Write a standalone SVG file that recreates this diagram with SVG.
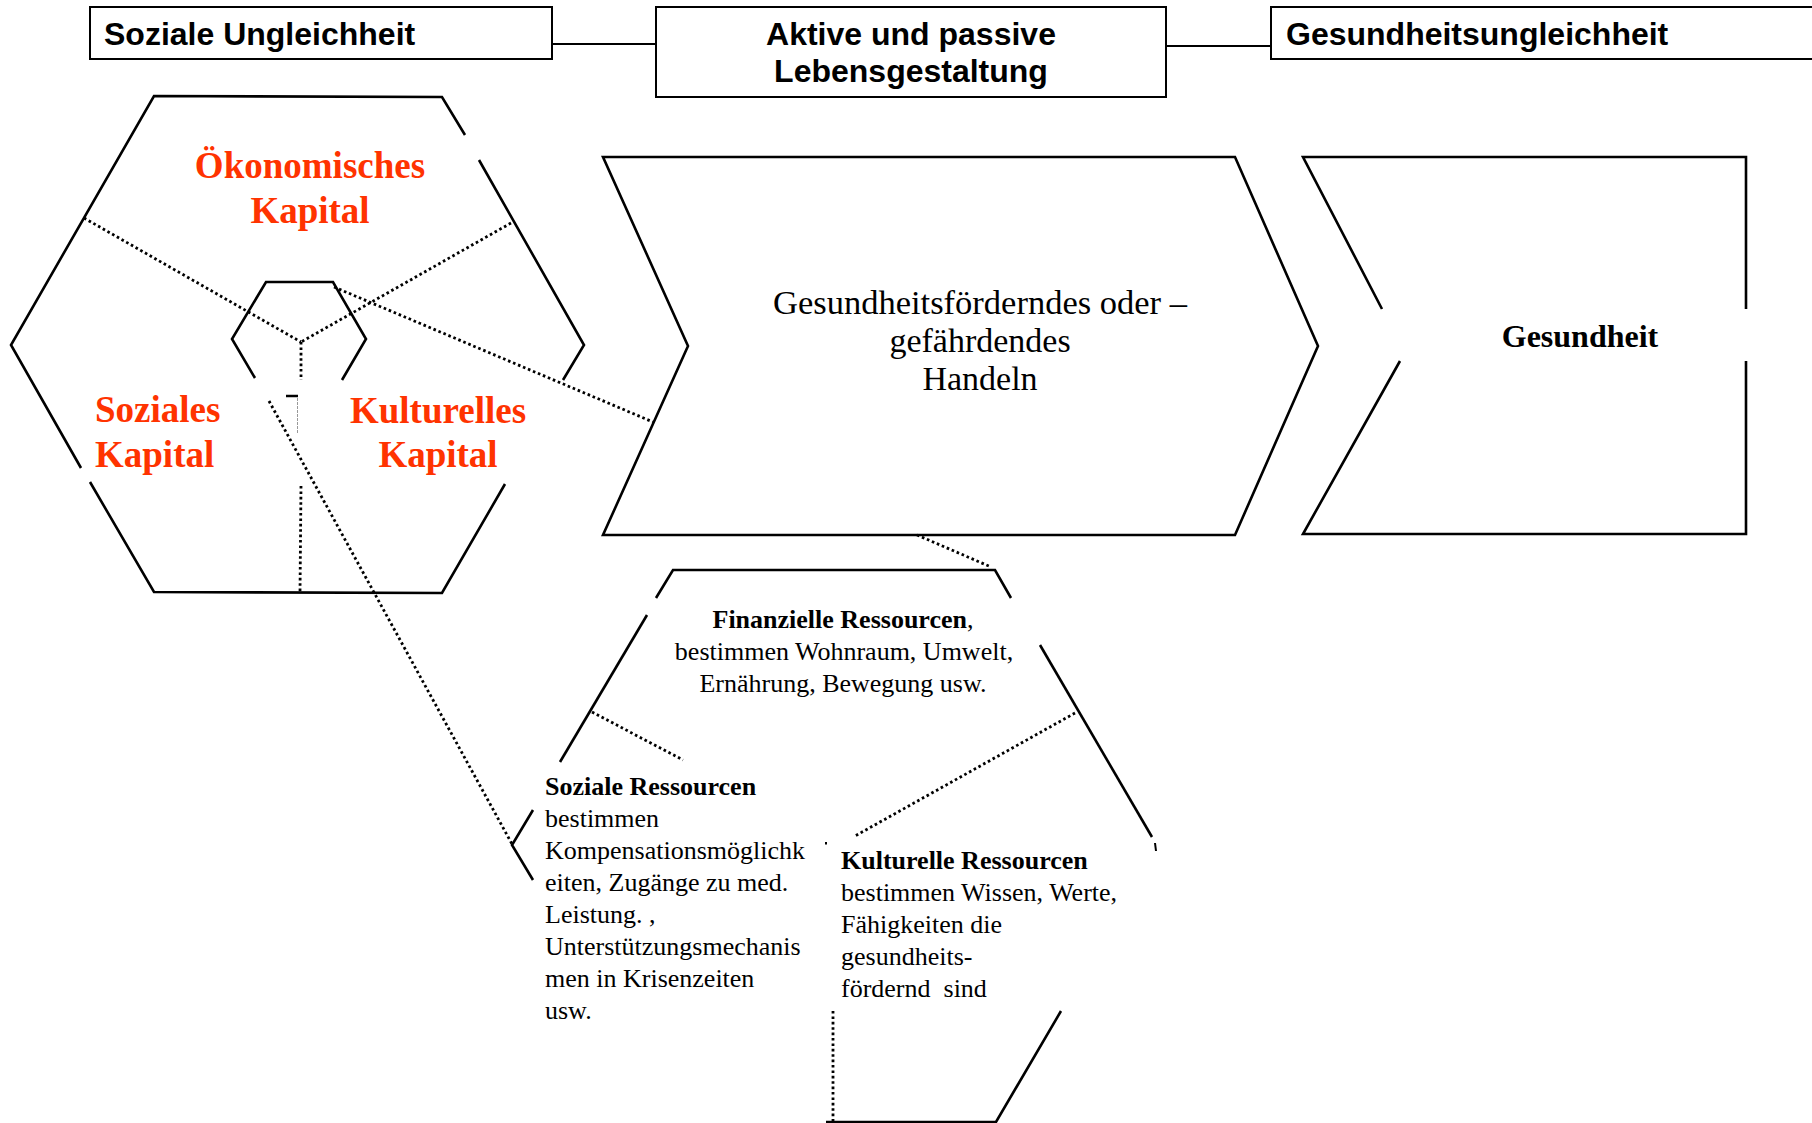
<svg xmlns="http://www.w3.org/2000/svg" width="1812" height="1123" viewBox="0 0 1812 1123">
<style>
.box{fill:#fff;stroke:#000;stroke-width:2}
.ln{fill:none;stroke:#000;stroke-width:2.6;stroke-linejoin:miter}
.thin{fill:none;stroke:#000;stroke-width:2}
.dot{fill:none;stroke:#000;stroke-width:2.8;stroke-dasharray:2.6 2.8}
.hd{font-family:"Liberation Sans",Arial,sans-serif;font-weight:bold;font-size:32px;fill:#000}
.red{font-family:"Liberation Serif","Times New Roman",serif;font-weight:bold;font-size:37px;fill:#FF3300}
.ser{font-family:"Liberation Serif","Times New Roman",serif;font-size:26px;fill:#000}
.b{font-weight:bold}
.mid{font-family:"Liberation Serif","Times New Roman",serif;font-size:34px;fill:#000}
</style>
<rect width="1812" height="1123" fill="#fff"/>

<g id="connectors">
<line class="thin" x1="552" y1="44" x2="656" y2="44"/>
<line class="thin" x1="1166" y1="46" x2="1271" y2="46"/>
<line class="dot" x1="84" y1="218" x2="301" y2="342"/>
<line class="dot" x1="511" y1="223" x2="301" y2="342"/>
<line class="dot" x1="301" y1="342" x2="301" y2="380"/>
<line class="dot" x1="301" y1="486" x2="300" y2="593"/>
<line class="dot" x1="334" y1="287" x2="653" y2="422"/>
<line class="dot" x1="269" y1="401" x2="512" y2="844"/>
<line class="dot" x1="917" y1="535" x2="991" y2="567"/>
<line class="dot" x1="592" y1="712" x2="683" y2="760"/>
<line class="dot" x1="1075" y1="713" x2="855" y2="836"/>
<line class="dot" x1="833" y1="1011" x2="833" y2="1123"/>
<line x1="286" y1="396" x2="298" y2="396" stroke="#000" stroke-width="2.5"/>
<line x1="297.5" y1="398" x2="297.5" y2="434" stroke="#999" stroke-width="1" stroke-dasharray="3 1"/>
<rect x="825" y="842" width="2" height="2.5" fill="#000"/>
<line x1="1155" y1="843" x2="1156" y2="851" stroke="#000" stroke-width="2"/>
</g>

<g id="soziale-ungleichheit">
<rect class="box" x="90" y="7" width="462" height="52"/>
<text class="hd" x="104" y="45">Soziale Ungleichheit</text>
</g>

<g id="lebensgestaltung">
<rect class="box" x="656" y="7" width="510" height="90"/>
<text class="hd" x="911" y="45" text-anchor="middle">Aktive und passive</text>
<text class="hd" x="911" y="82" text-anchor="middle">Lebensgestaltung</text>
</g>

<g id="gesundheitsungleichheit">
<rect class="box" x="1271" y="7" width="560" height="52"/>
<text class="hd" x="1286" y="45">Gesundheitsungleichheit</text>
</g>

<g id="kapital-hexagon">
<polyline class="ln" points="465,135 442,97 154,96 11,345 81,468"/>
<polyline class="ln" points="90,482 154,592 442,593 505,484"/>
<polyline class="ln" points="563,380 584,345 479,160"/>
<polyline class="ln" points="255,378 232,339 266,282 333,282 366,339 342,380"/>
<text class="red" x="310" y="178" text-anchor="middle">Ökonomisches</text>
<text class="red" x="310" y="223" text-anchor="middle">Kapital</text>
<text class="red" x="95" y="422">Soziales</text>
<text class="red" x="95" y="467">Kapital</text>
<text class="red" x="438" y="423" text-anchor="middle">Kulturelles</text>
<text class="red" x="438" y="467" text-anchor="middle">Kapital</text>
</g>

<g id="handeln">
<polygon class="ln" points="603,157 1235,157 1318,346 1235,535 603,535 688,346"/>
<text class="mid" x="980" y="314" text-anchor="middle" textLength="414" lengthAdjust="spacingAndGlyphs">Gesundheitsförderndes oder –</text>
<text class="mid" x="980" y="352" text-anchor="middle">gefährdendes</text>
<text class="mid" x="980" y="390" text-anchor="middle">Handeln</text>
</g>

<g id="gesundheit">
<polyline class="ln" points="1382,309 1303,157 1746,157 1746,309"/>
<polyline class="ln" points="1746,361 1746,534 1303,534 1400,361"/>
<text class="ser b" x="1580" y="347" text-anchor="middle" style="font-size:32px">Gesundheit</text>
</g>

<g id="ressourcen-hexagon">
<polyline class="ln" points="656,598 673,570 995,570 1011,598"/>
<polyline class="ln" points="1040,645 1152,837"/>
<polyline class="ln" points="647,615 560,762"/>
<polyline class="ln" points="533,810 512,845 533,880"/>
<polyline class="ln" points="1061,1011 996,1122 826,1122"/>
<text class="ser" x="843" y="628" text-anchor="middle"><tspan class="b">Finanzielle Ressourcen</tspan>,</text>
<text class="ser" x="844" y="660" text-anchor="middle">bestimmen Wohnraum, Umwelt,</text>
<text class="ser" x="843" y="692" text-anchor="middle">Ernährung, Bewegung usw.</text>
<text class="ser" x="545">
<tspan class="b" x="545" y="795">Soziale Ressourcen</tspan>
<tspan x="545" y="827">bestimmen</tspan>
<tspan x="545" y="859">Kompensationsmöglichk</tspan>
<tspan x="545" y="891">eiten, Zugänge zu med.</tspan>
<tspan x="545" y="923">Leistung. ,</tspan>
<tspan x="545" y="955">Unterstützungsmechanis</tspan>
<tspan x="545" y="987">men in Krisenzeiten</tspan>
<tspan x="545" y="1019">usw.</tspan>
</text>
<text class="ser" x="841">
<tspan class="b" x="841" y="869">Kulturelle Ressourcen</tspan>
<tspan x="841" y="901">bestimmen Wissen, Werte,</tspan>
<tspan x="841" y="933">Fähigkeiten die</tspan>
<tspan x="841" y="965">gesundheits-</tspan>
<tspan x="841" y="997" xml:space="preserve">fördernd  sind</tspan>
</text>
</g>
</svg>
